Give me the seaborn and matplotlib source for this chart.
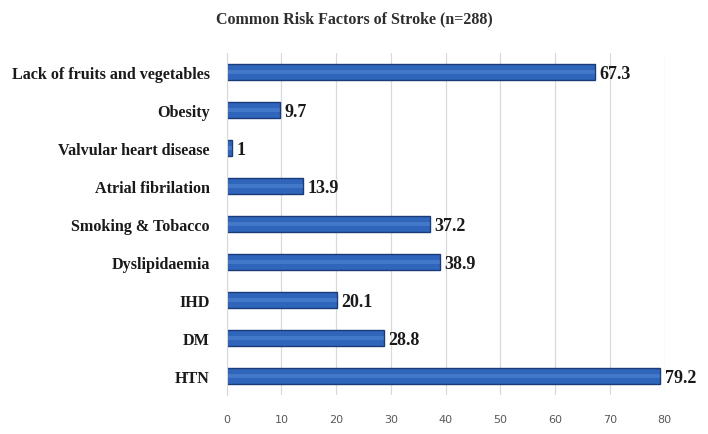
import matplotlib
matplotlib.use("Agg")
import matplotlib.pyplot as plt
import seaborn as sns
import pandas as pd

categories = ["Lack of fruits and vegetables", "Obesity", "Valvular heart disease",
              "Atrial fibrilation", "Smoking & Tobacco", "Dyslipidaemia", "IHD", "DM", "HTN"]
values = [67.3, 9.7, 1, 13.9, 37.2, 38.9, 20.1, 28.8, 79.2]
value_labels = ["67.3", "9.7", "1", "13.9", "37.2", "38.9", "20.1", "28.8", "79.2"]
xticks = [0, 10, 20, 30, 40, 50, 60, 70, 80]

df = pd.DataFrame({"factor": categories, "pct": values})

sns.set_style("white")
plt.rcParams["font.family"] = ["Liberation Serif", "DejaVu Serif"]

fig = plt.figure(figsize=(7.08, 4.35), dpi=100)
ax = fig.add_axes([0.320, 0.090, 0.619, 0.786])

sns.barplot(data=df, x="pct", y="factor", orient="h", color="#2F66BC",
            width=0.43, saturation=1, edgecolor="#1B3A78", linewidth=1.0, ax=ax)

# subtle highlight for a cylinder-like look
sns.barplot(data=df, x="pct", y="factor", orient="h", color="#6A9BE0",
            width=0.12, saturation=1, linewidth=0, ax=ax, alpha=0.35)

ax.set_xlim(0, 80)
ax.set_ylim(8.5, -0.5)
ax.set_xticks(xticks)
ax.set_xticklabels([str(t) for t in xticks], family="DejaVu Sans", fontsize=8, color="#595959")
ax.tick_params(axis="x", length=0, pad=14)
ax.tick_params(axis="y", length=0, pad=12)
for lbl in ax.get_yticklabels():
    lbl.set_fontweight("bold")
    lbl.set_fontsize(11.6)
    lbl.set_color("#1A1A1A")
ax.set_xlabel("")
ax.set_ylabel("")
ax.grid(axis="x", color="#D9D9D9", linewidth=0.9)
ax.set_axisbelow(True)
for s in ["top", "right", "bottom"]:
    ax.spines[s].set_visible(False)
ax.spines["left"].set_color("#D9D9D9")

for i, (v, t) in enumerate(zip(values, value_labels)):
    ax.text(v + 0.8, i + 0.05, t, va="center", ha="left", fontsize=13,
            fontweight="bold", color="#1A1A1A")

fig.text(0.5, 0.955, "Common Risk Factors of Stroke (n=288)", ha="center", va="center",
         fontsize=11.5, fontweight="bold", color="#2E2E2E")

fig.savefig("out.png", dpi=100)
